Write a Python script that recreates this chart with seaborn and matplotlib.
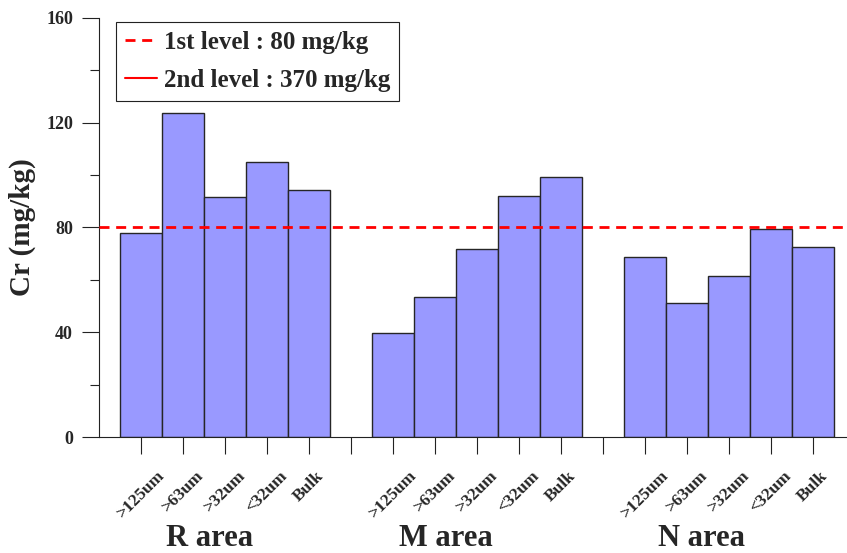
import matplotlib
matplotlib.use("Agg")
import matplotlib.pyplot as plt
import seaborn as sns
import pandas as pd
import numpy as np
from matplotlib.ticker import MultipleLocator
from matplotlib.lines import Line2D

# ---- data ----
areas = ["R area", "M area", "N area"]
fractions = [">125um", ">63um", ">32um", "<32um", "Bulk"]
r_values = [77.8, 123.6, 91.8, 104.9, 94.2]
m_values = [39.8, 53.6, 71.7, 92.0, 99.2]
n_values = [68.6, 51.0, 61.6, 79.3, 72.7]
level1 = 80
level2 = 370
legend_labels = ["1st level : 80 mg/kg", "2nd level : 370 mg/kg"]
y_label = "Cr (mg/kg)"

sns.set_style("ticks")
plt.rcParams["font.family"] = ["Liberation Serif", "DejaVu Serif"]
plt.rcParams["font.weight"] = "bold"

rows = []
for gi, (area, vals) in enumerate(zip(areas, [r_values, m_values, n_values])):
    for fi, (frac, v) in enumerate(zip(fractions, vals)):
        rows.append({"area": area, "fraction": frac, "pos": gi * 6 + fi + 1, "value": v})
df = pd.DataFrame(rows)

fig = plt.figure(figsize=(8.47, 5.53), dpi=100)
ax = fig.add_axes([99 / 847, 1 - 437 / 553, 748 / 847, 419 / 553])

sns.barplot(data=df, x="pos", y="value", native_scale=True, width=1.0,
            color="#9999FF", saturation=1, edgecolor="#262626", linewidth=1.0,
            errorbar=None, ax=ax)

ax.set_ylim(0, 160)
ax.set_xlim(0, 17.81)
ax.axhline(level1, color="#FF0000", lw=2.0, ls=(0, (3.6, 2.4)), zorder=5)
ax.axhline(level2, color="#FF0000", lw=1.5, zorder=5)
ax.set_ylim(0, 160)

# ticks
ax.yaxis.set_major_locator(MultipleLocator(40))
ax.yaxis.set_minor_locator(MultipleLocator(20))
ax.tick_params(axis="y", which="major", length=12.2, width=0.8, pad=6.5, labelsize=13, color="#222222")
ax.tick_params(axis="y", which="minor", length=6.5, width=0.8, color="#222222")
ax.tick_params(axis="x", which="major", length=12.2, width=0.8, pad=10, labelsize=12.5, color="#222222")
for lab in ax.get_yticklabels():
    lab.set_fontweight("bold")

xt = list(range(1, 18))
xl = []
for p in xt:
    if p % 6 == 0:
        xl.append("")
    else:
        xl.append(fractions[(p % 6) - 1])
ax.set_xticks(xt)
ax.set_xticklabels(xl, rotation=45, ha="center", va="top", fontweight="bold")
ax.set_xlabel("")
ax.set_ylabel("")

for s in ["top", "right"]:
    ax.spines[s].set_visible(False)
for s in ["left", "bottom"]:
    ax.spines[s].set_linewidth(0.8)
    ax.spines[s].set_color("#222222")

# legend
handles = [Line2D([], [], color="#FF0000", lw=2.0, ls=(0, (3.6, 2.4))),
           Line2D([], [], color="#FF0000", lw=1.5)]
leg = ax.legend(handles, legend_labels, loc="upper left",
                bbox_to_anchor=((116 - 99) / 748, 1 - (22 - 18) / 419),
                borderaxespad=0, frameon=True, fancybox=False, framealpha=1,
                edgecolor="#222222", prop={"size": 18, "weight": "bold"},
                handlelength=1.3, handletextpad=0.25, labelspacing=0.6,
                borderpad=0.35)
leg.get_frame().set_linewidth(0.8)

# group labels
group_x = [210, 446, 701]
for area, gx in zip(areas, group_x):
    fig.text(gx / 847, 1 - 545.5 / 553, area, ha="center", va="baseline",
             fontsize=22, fontweight="bold")

fig.text(22 / 847, 1 - 227 / 553, y_label, rotation=90, ha="center", va="center",
         fontsize=21, fontweight="bold")

fig.savefig("out.png", dpi=100)
